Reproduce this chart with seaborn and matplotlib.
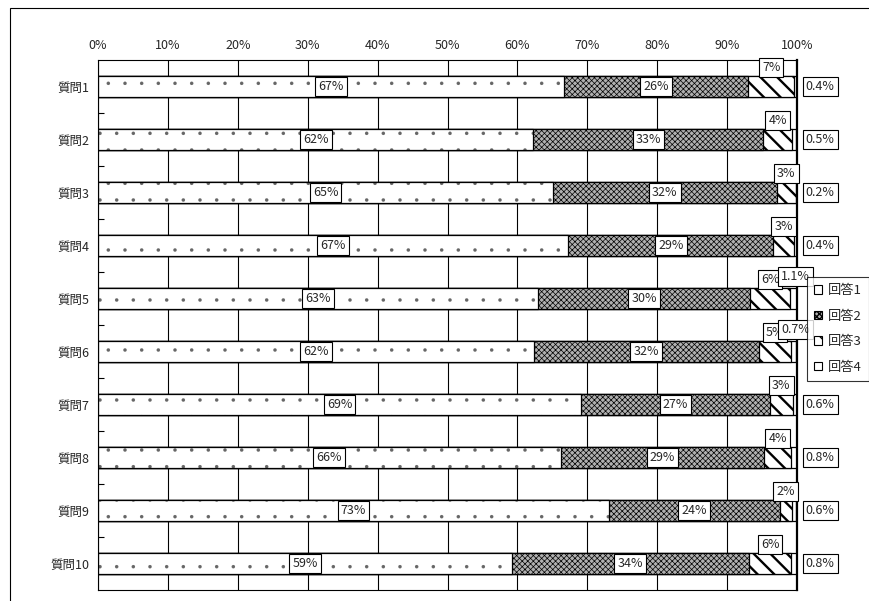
import matplotlib.pyplot as plt
import matplotlib.patches as mpatches
import pandas as pd
import seaborn as sns

# values (percent of answers per question)
questions = [f"質問{i}" for i in range(1, 11)]
answer1 = [66.6, 62.3, 65.1, 67.3, 62.9, 62.4, 69.1, 66.2, 73.1, 59.2]
answer2 = [26.4, 32.9, 32.0, 29.3, 30.4, 32.1, 27.0, 29.1, 24.4, 33.9]
answer3 = [6.6, 4.1, 2.7, 3.0, 5.7, 4.7, 3.3, 3.9, 1.8, 6.1]
answer4 = [0.4, 0.5, 0.2, 0.4, 1.1, 0.7, 0.6, 0.8, 0.6, 0.8]
answer_names = ["回答1", "回答2", "回答3", "回答4"]
x_ticks = list(range(0, 101, 10))

df = pd.DataFrame({"question": questions, "a1": answer1, "a2": answer2,
                   "a3": answer3, "a4": answer4})
df["c1"] = df["a1"]
df["c2"] = df["c1"] + df["a2"]
df["c3"] = df["c2"] + df["a3"]
df["c4"] = df["c3"] + df["a4"]

sns.set_style("white")
plt.rcParams["font.family"] = ["Noto Sans CJK JP", "DejaVu Sans"]
plt.rcParams["hatch.color"] = "black"

fig = plt.figure(figsize=(8.7, 6.01), dpi=100)
ax = fig.add_axes([98 / 870, 1 - 590 / 601, 699 / 870, 530 / 601])

# segment styles: (cumulative column, facecolor, hatch, hatch colour, hatch lw)
styles = {
    "a1": ("c1", "white", ".", "#666666", 0.1),
    "a2": ("c2", "#b0b0b0", "xxxxxx", "black", 0.5),
    "a3": ("c3", "white", "\\\\", "black", 1.7),
    "a4": ("c4", "white", None, "black", 1.0),
}


def set_hatch_lw(patches, lw):
    for p in patches:
        if hasattr(p, "set_hatch_linewidth"):
            p.set_hatch_linewidth(lw)


# stacked bars: draw the cumulative totals from largest to smallest
for key in ["a4", "a3", "a2", "a1"]:
    col, fc, hatch, hc, hlw = styles[key]
    n_before = len(ax.patches)
    # hatch colour follows the edge colour, so the outline is drawn after
    sns.barplot(data=df, x=col, y="question", orient="h", color=fc,
                saturation=1, edgecolor=hc, linewidth=0.0,
                hatch=hatch, width=0.4, errorbar=None, ax=ax, zorder=2)
    set_hatch_lw(ax.patches[n_before:], hlw)
    sns.barplot(data=df, x=col, y="question", orient="h", color="black",
                fill=False, linewidth=0.9, width=0.4, errorbar=None, ax=ax,
                zorder=2)

box = dict(boxstyle="square,pad=0.25", fc="white", ec="black", lw=0.8)
fs = 9
for i, row in df.iterrows():
    ax.text(row["a1"] / 2, i, f"{row['a1']:.0f}%", ha="center", va="center",
            fontsize=fs, bbox=box, zorder=5)
    ax.text(row["c1"] + row["a2"] / 2, i, f"{row['a2']:.0f}%", ha="center",
            va="center", fontsize=fs, bbox=box, zorder=5)
    ax.text(row["c2"] + row["a3"] / 2, i - 0.36, f"{row['a3']:.0f}%",
            ha="center", va="center", fontsize=fs, bbox=box, zorder=5)
    if row["question"] in ("質問5", "質問6"):
        lx, ly = 99.8, i - 0.42
    else:
        lx, ly = 103.3, i
    ax.text(lx, ly, f"{row['a4']:.1f}%", ha="center", va="center",
            fontsize=fs, bbox=box, zorder=6, clip_on=False)

ax.set_xlim(0, 100)
ax.set_ylim(len(questions) - 0.5, -0.5)
ax.set_xticks(x_ticks)
ax.set_xticklabels([f"{t}%" for t in x_ticks])
ax.xaxis.tick_top()
ax.set_xlabel("")
ax.set_ylabel("")
ax.set_yticks(range(len(questions)))
ax.set_yticklabels(questions)
ax.set_yticks([i + 0.5 for i in range(len(questions) - 1)], minor=True)
ax.tick_params(axis="x", which="both", length=0, labelsize=fs, pad=6)
ax.tick_params(axis="y", which="major", length=0, labelsize=fs, pad=6)
ax.tick_params(axis="y", which="minor", direction="in", length=4,
               width=0.8, color="black", left=True)
ax.grid(axis="x", color="black", linewidth=0.8, zorder=0)
ax.set_axisbelow(True)
for side, spine in ax.spines.items():
    spine.set_visible(True)
    spine.set_color("black")
    spine.set_linewidth(0.8)
ax.spines["right"].set_linewidth(1.6)

handles = []
for key in ["a1", "a2", "a3", "a4"]:
    col, fc, hatch, hc, hlw = styles[key]
    h = mpatches.Patch(facecolor=fc, edgecolor="black", hatch=hatch,
                       linewidth=0.8)
    set_hatch_lw([h], hlw)
    handles.append(h)
leg = fig.legend(handles, answer_names, loc="upper left",
                 bbox_to_anchor=(807 / 870, 1 - 277 / 601), fontsize=9.5,
                 frameon=True, fancybox=False, edgecolor="black",
                 handlelength=0.6, handleheight=0.6, handletextpad=0.4,
                 labelspacing=0.95, borderpad=0.55, borderaxespad=0)
leg.get_frame().set_linewidth(0.8)
leg.set_zorder(10)

# chart area frame (only the top and left edges are in view)
fig.add_artist(mpatches.Rectangle((10 / 870, -0.1), 1.2, 1 - 8 / 601 + 0.1,
                                  transform=fig.transFigure, fill=False,
                                  edgecolor="black", linewidth=0.8))

fig.savefig("out.png", dpi=100)
